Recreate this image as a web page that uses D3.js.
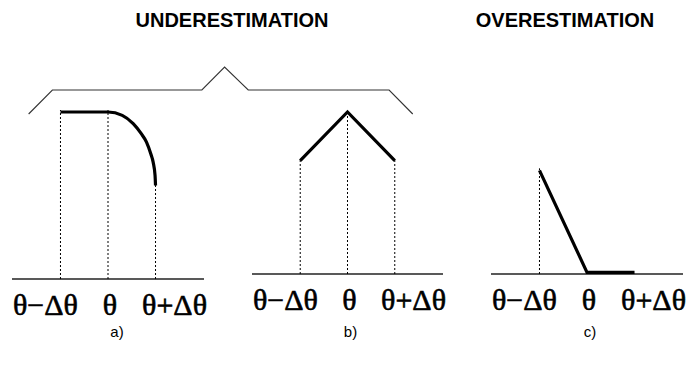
<!DOCTYPE html>
<html>
<head>
<meta charset="utf-8">
<script src="https://cdn.jsdelivr.net/npm/d3@7"></script>
<style>
  body { margin: 0; background: #fff; }
  svg { display: block; }
</style>
</head>
<body>
<div id="chart"></div>
<script>
// values (x in units of delta-theta, y as a fraction of the peak)
var tickValues = [-1, 0, 1];
var tickLabels = ["θ−Δθ", "θ", "θ+Δθ"];
var panelNames = ["a)", "b)", "c)"];
var groupTitles = ["UNDERESTIMATION", "OVERESTIMATION"];

// a) flat top then a rounded drop
var seriesA = [[-1, 1], [0, 1], [0.3, 0.98], [0.53, 0.93], [0.7, 0.87], [0.81, 0.82],
               [0.9, 0.75], [0.95, 0.70], [0.99, 0.62], [1, 0.56]];
// b) triangle
var seriesB = [[-1, 0.7], [0, 1], [1, 0.7]];
// c) falling line then flat on the axis
var seriesC = [[-1, 0.64], [0, 0.01], [1, 0.01]];

var dropsA = [-1, 0, 1];
var dropsB = [-1, 0, 1];
var dropsC = [-1];

var width = 687, height = 365;

var svg = d3.select("#chart").append("svg")
        .attr("width", width)
        .attr("height", height);

// panel placement
var panels = [
    {data: seriesA, drops: dropsA, name: panelNames[0], x0: 12, x1: 204, base: 279, top: 112, nameDx: 9, curve: d3.curveMonotoneX},
    {data: seriesB, drops: dropsB, name: panelNames[1], x0: 252, x1: 443, base: 274, top: 112, nameDx: 3, curve: d3.curveLinear},
    {data: seriesC, drops: dropsC, name: panelNames[2], x0: 491, x1: 683, base: 274, top: 112, nameDx: 3, curve: d3.curveLinear}
];

panels.forEach(function (p) {
    p.x = d3.scaleLinear().domain([-2.02, 2.02]).range([p.x0, p.x1]);
    p.y = d3.scaleLinear().domain([0, 1]).range([p.base, p.top]);
    var g = svg.append("g");

    // horizontal axis
    g.append("line")
            .attr("x1", p.x(-2.02)).attr("x2", p.x(2.02))
            .attr("y1", p.y(0)).attr("y2", p.y(0))
            .attr("stroke", "#222")
            .attr("stroke-width", 1.6);

    // dotted drop lines
    g.selectAll("line.drop")
            .data(p.drops)
            .enter()
            .append("line")
            .attr("class", "drop")
            .attr("x1", function (d) { return p.x(d); })
            .attr("x2", function (d) { return p.x(d); })
            .attr("y1", p.y(0))
            .attr("y2", function (d) {
                var pt = p.data.find(function (q) { return q[0] === d; });
                return p.y(pt[1]) - 2;
            })
            .attr("stroke", "#000")
            .attr("stroke-width", 1)
            .attr("stroke-dasharray", "2,2");

    // the curve
    var line = d3.line()
            .x(function (d) { return p.x(d[0]); })
            .y(function (d) { return p.y(d[1]); })
            .curve(p.curve);
    g.append("path")
            .datum(p.data)
            .attr("d", line)
            .attr("fill", "none")
            .attr("stroke", "#000")
            .attr("stroke-width", 3.2);

    // tick labels under the axis
    var anchors = ["start", "middle", "end"];
    var offs = [1, 2, 3];
    g.selectAll("text.tick")
            .data(tickValues)
            .enter()
            .append("text")
            .attr("class", "tick")
            .attr("x", function (d, i) {
                return i === 0 ? p.x(-2.02) + offs[i] : i === 2 ? p.x(2.02) + offs[i] : p.x(d) + offs[i];
            })
            .attr("y", p.y(0) + 36)
            .attr("text-anchor", function (d, i) { return anchors[i]; })
            .attr("stroke", "#000")
            .attr("stroke-width", 0.6)
            .style("font-family", "'Liberation Serif', 'Times New Roman', serif")
            .style("font-size", "30px")
            .text(function (d, i) { return tickLabels[i]; });

    // panel letter
    g.append("text")
            .attr("x", p.x(0) + p.nameDx)
            .attr("y", 337)
            .attr("text-anchor", "middle")
            .style("font-family", "'Liberation Sans', Arial, sans-serif")
            .style("font-size", "15px")
            .text(p.name);
});

// group titles
var titleX = [232, 565];
svg.selectAll("text.title")
        .data(groupTitles)
        .enter()
        .append("text")
        .attr("class", "title")
        .attr("x", function (d, i) { return titleX[i]; })
        .attr("y", 27)
        .attr("text-anchor", "middle")
        .style("font-family", "'Liberation Sans', Arial, sans-serif")
        .style("font-weight", "bold")
        .style("font-size", "20px")
        .text(function (d) { return d; });

// brace over panels a and b
var a = panels[0], b = panels[1];
var braceY = 90, braceLow = 114, braceTop = 67;
var brace = [
    [a.x(-1.67), braceLow], [a.x(-1.17), braceY],
    [b.x(-3.08), braceY], [b.x(-2.6), braceTop], [b.x(-2.1), braceY],
    [b.x(0.88), braceY], [b.x(1.38), braceLow]
];
svg.append("path")
        .datum(brace)
        .attr("d", d3.line())
        .attr("fill", "none")
        .attr("stroke", "#333")
        .attr("stroke-width", 1.1);
</script>
</body>
</html>
